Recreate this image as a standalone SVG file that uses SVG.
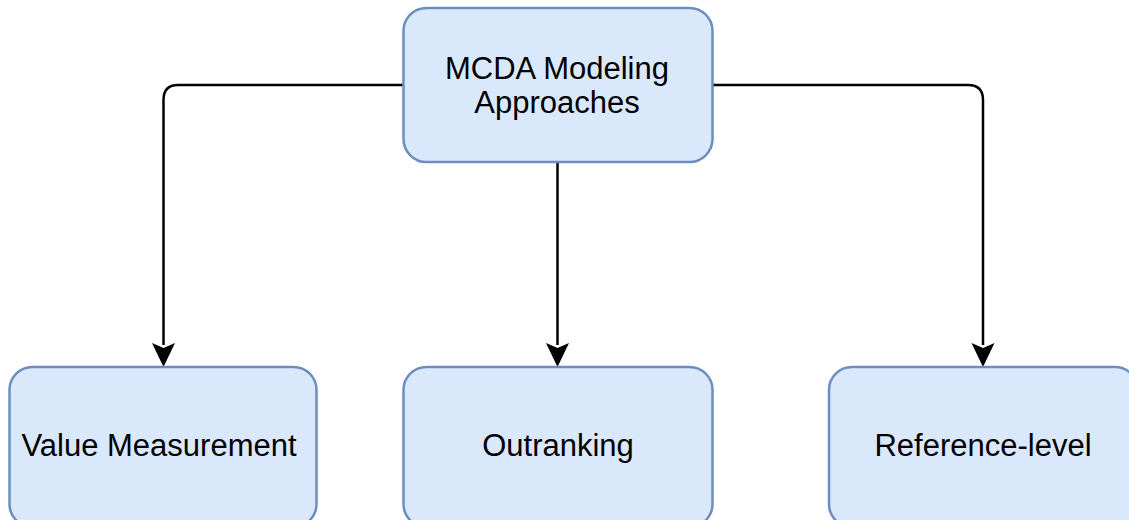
<svg xmlns="http://www.w3.org/2000/svg" width="1129" height="520" viewBox="0 0 1129 520">
  <style>
    .box { fill: #dae8fc; stroke: #6c8ebf; stroke-width: 2.5; }
    .label { font-family: "Liberation Sans", Arial, sans-serif; font-size: 31px; fill: #000000; text-anchor: middle; }
    .edge { fill: none; stroke: #000000; stroke-width: 2.5; }
    .head { fill: #000000; }
  </style>
  <rect width="1129" height="520" fill="#ffffff"/>

  <!-- connectors -->
  <g id="connectors">
    <path class="edge" d="M403,85 H178 Q163.5,85 163.5,100 V345"/>
    <path class="head" d="M163.5,367 L152,343 L163.5,348 L175,343 Z"/>
    <path class="edge" d="M557.5,162 V345"/>
    <path class="head" d="M557.5,367 L546,343 L557.5,348 L569,343 Z"/>
    <path class="edge" d="M712,85 H968 Q983,85 983,100 V345"/>
    <path class="head" d="M983,367 L971.5,343 L983,348 L994.5,343 Z"/>
  </g>

  <!-- root node -->
  <g id="node-mcda">
    <rect class="box" x="403.5" y="8" width="309" height="154" rx="23" ry="23"/>
    <text class="label" x="557" y="79">MCDA Modeling</text>
    <text class="label" x="557" y="113">Approaches</text>
  </g>

  <!-- child nodes -->
  <g id="node-value">
    <rect class="box" x="9.5" y="367" width="307" height="160" rx="23" ry="23"/>
    <text class="label" x="159" y="456">Value Measurement</text>
  </g>
  <g id="node-outranking">
    <rect class="box" x="403.5" y="367" width="309" height="160" rx="23" ry="23"/>
    <text class="label" x="558" y="456">Outranking</text>
  </g>
  <g id="node-reference">
    <rect class="box" x="829" y="367" width="309" height="160" rx="23" ry="23"/>
    <text class="label" x="983" y="456">Reference-level</text>
  </g>
</svg>
